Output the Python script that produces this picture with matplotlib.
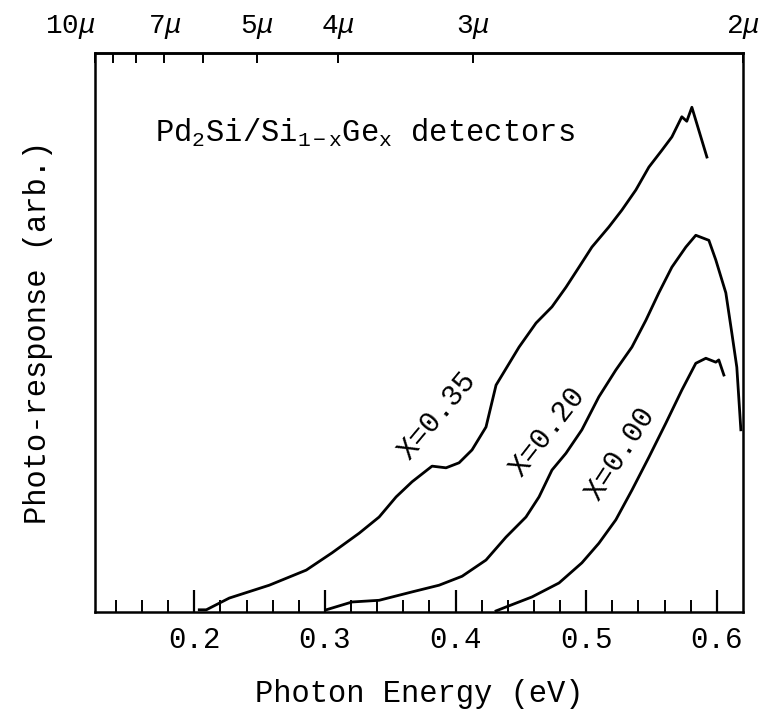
import numpy as np
import matplotlib
matplotlib.use("Agg")
import matplotlib.pyplot as plt

plt.rcParams['font.family'] = ['Liberation Mono', 'DejaVu Sans Mono']
plt.rcParams['mathtext.fontset'] = 'custom'
plt.rcParams['mathtext.rm'] = 'Liberation Mono'
plt.rcParams['mathtext.it'] = 'Liberation Mono:italic'
plt.rcParams['mathtext.default'] = 'regular'

# ---- data (photon energy in eV, photo-response in arbitrary units 0-100) ----
e_x035 = [0.2038, 0.2092, 0.2268, 0.2574, 0.2857, 0.3055, 0.3262, 0.3415, 0.3545,
          0.3667, 0.3820, 0.3927, 0.4027, 0.4126, 0.4233, 0.4310, 0.4486, 0.4616,
          0.4738, 0.4845, 0.4945, 0.5044, 0.5174, 0.5273, 0.5380, 0.5480, 0.5579,
          0.5656, 0.5732, 0.5770, 0.5809, 0.5924]
r_x035 = [0.4, 0.4, 2.5, 4.8, 7.5, 10.6, 14.1, 17.0, 20.6,
          23.3, 26.1, 25.8, 26.7, 29.0, 33.1, 40.6, 47.4, 51.7,
          54.6, 58.1, 61.7, 65.3, 68.9, 71.9, 75.5, 79.6, 82.6,
          85.0, 88.6, 87.8, 90.3, 81.4]

e_x020 = [0.3010, 0.3208, 0.3415, 0.3667, 0.3874, 0.4050, 0.4233, 0.4386, 0.4539,
          0.4639, 0.4738, 0.4845, 0.4967, 0.5097, 0.5227, 0.5350, 0.5457, 0.5556,
          0.5656, 0.5763, 0.5839, 0.5939, 0.5992, 0.6069, 0.6115, 0.6153, 0.6184]
r_x020 = [0.4, 1.8, 2.1, 3.6, 4.8, 6.4, 9.3, 13.4, 17.0,
          20.6, 25.4, 28.4, 32.6, 38.5, 43.3, 47.4, 52.2, 57.1,
          61.7, 65.3, 67.4, 66.5, 63.0, 57.1, 49.9, 43.8, 32.6]

e_x000 = [0.4310, 0.4386, 0.4585, 0.4792, 0.4967, 0.5097, 0.5227, 0.5350, 0.5480,
          0.5610, 0.5732, 0.5839, 0.5916, 0.5992, 0.6015, 0.6054]
r_x000 = [0.2, 0.9, 2.7, 5.2, 8.8, 12.3, 16.5, 21.8, 27.7,
          33.8, 39.7, 44.5, 45.4, 44.7, 45.1, 42.4]

curve_labels = ['X=0.35', 'X=0.20', 'X=0.00']
label_pos = [(0.3860, 35.2, 50), (0.4700, 32.3, 52), (0.5265, 28.4, 57)]

energy_ticks = [0.2, 0.3, 0.4, 0.5, 0.6]
energy_ticklabels = ['0.2', '0.3', '0.4', '0.5', '0.6']
wl_ticks = [2, 3, 4, 5, 6, 7, 8, 9, 10]
wl_ticklabels = [r'2$\mathit{\mu}$', r'3$\mathit{\mu}$', r'4$\mathit{\mu}$',
                 r'5$\mathit{\mu}$', '', r'7$\mathit{\mu}$', '', '',
                 r'10$\mathit{\mu}$']

title = r'Pd$_2$Si/Si$_{1-x}$Ge$_x$ detectors'
xlabel = 'Photon Energy (eV)'
ylabel = 'Photo-response (arb.)'

# ---- figure ----
fig = plt.figure(figsize=(7.62, 7.17), dpi=100)
ax = fig.add_axes([0.1247, 0.1464, 0.975 - 0.1247, 0.926 - 0.1464])

for e, r in [(e_x035, r_x035), (e_x020, r_x020), (e_x000, r_x000)]:
    ax.plot(e, r, color='black', lw=2.0)

for lab, (xe, yr, rot) in zip(curve_labels, label_pos):
    ax.text(xe, yr, lab, rotation=rot, ha='center', va='center',
            fontsize=21, rotation_mode='anchor')

ax.set_xlim(0.124, 0.62)
ax.set_ylim(0, 100)
ax.set_yticks([])
ax.set_xticks(energy_ticks)
ax.set_xticklabels(energy_ticklabels)
ax.set_xticks(np.arange(0.14, 0.62, 0.02), minor=True)
ax.tick_params(axis='x', which='major', direction='in', length=16, width=1.6,
               labelsize=21, pad=10, top=False)
ax.tick_params(axis='x', which='minor', direction='in', length=8.5, width=1.4, top=False)
for s in ax.spines.values():
    s.set_linewidth(1.8)

def e2wl(E):
    E = np.asarray(E, dtype=float)
    return 1.24 / np.where(np.abs(E) < 1e-9, 1e-9, E)

sec = ax.secondary_xaxis('top', functions=(e2wl, e2wl))
sec.set_xticks(wl_ticks)
sec.set_xticklabels(wl_ticklabels)
sec.tick_params(axis='x', direction='in', length=7, width=1.4, labelsize=20, pad=9)
sec.xaxis.set_minor_locator(matplotlib.ticker.NullLocator())
for t in sec.get_xticklabels():
    if t.get_text().startswith('10'):
        t.set_ha('right')
sec.spines['top'].set_linewidth(1.8)

ax.text(0.0926, 0.841, title, transform=ax.transAxes, ha='left', va='baseline',
        fontsize=22)

ax.set_xlabel(xlabel, fontsize=22, labelpad=18)
ax.set_ylabel(ylabel, fontsize=22, labelpad=30)

fig.savefig('out.png', dpi=100, facecolor='white')
